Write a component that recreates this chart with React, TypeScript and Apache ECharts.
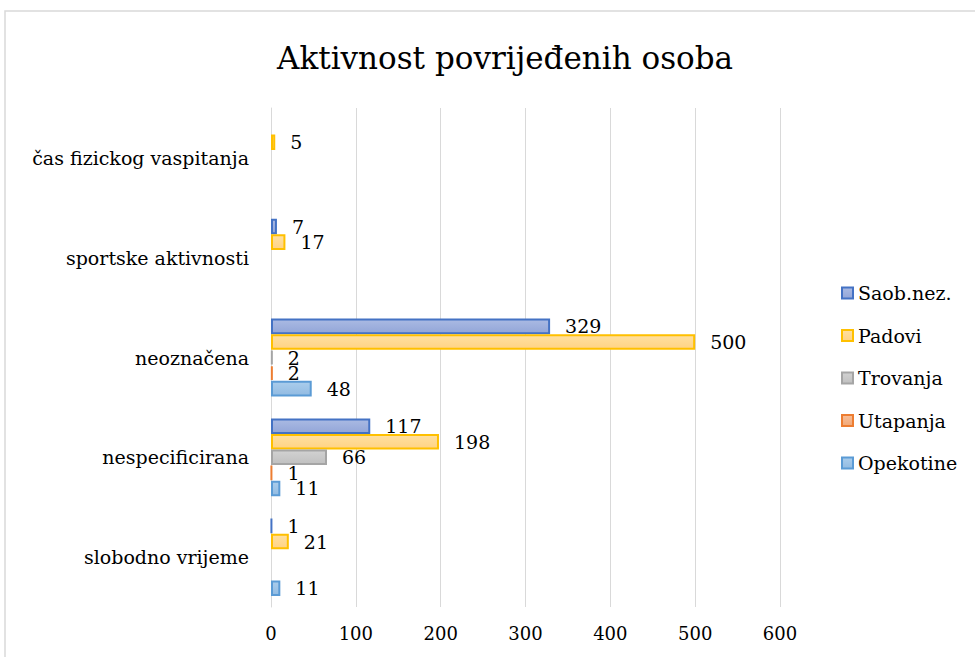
import React, { useEffect, useRef } from "react";
import * as echarts from "echarts";

const categories = [
  "slobodno vrijeme",
  "nespecificirana",
  "neoznačena",
  "sportske aktivnosti",
  "čas fizickog vaspitanja",
];
const seriesNames = ["Saob.nez.", "Padovi", "Trovanja", "Utapanja", "Opekotine"];
const saob = [1, 117, 329, 7, null];
const padovi = [21, 198, 500, 17, 5];
const trovanja = [null, 66, 2, null, null];
const utapanja = [null, 1, 2, null, null];
const opekotine = [11, 11, 48, null, null];
const xTicks = [0, 100, 200, 300, 400, 500, 600];

const FONT = "DejaVu Serif";

const styles = [
  { top: "#AABAE3", bottom: "#93A6D8", border: "#4472C4" },
  { top: "#FFE0A0", bottom: "#FFD385", border: "#FFC000" },
  { top: "#D2D2D2", bottom: "#C0C0C0", border: "#A5A5A5" },
  { top: "#F8BE98", bottom: "#F1A877", border: "#ED7D31" },
  { top: "#AACDEC", bottom: "#92BBE2", border: "#5B9BD5" },
];

export default function App() {
  const ref = useRef<HTMLDivElement>(null);
  useEffect(() => {
    if (!ref.current) return;
    const chart = echarts.init(ref.current, undefined, { renderer: "svg" });
    const datas = [saob, padovi, trovanja, utapanja, opekotine];
    const series = datas.map((d, i) => ({
      name: seriesNames[i],
      type: "bar",
      data: d,
      barGap: "0%",
      barCategoryGap: "22%",
      itemStyle: {
        color: new echarts.graphic.LinearGradient(0, 0, 0, 1, [
          { offset: 0, color: styles[i].top },
          { offset: 1, color: styles[i].bottom },
        ]),
        borderColor: styles[i].border,
        borderWidth: 2,
      },
      label: {
        show: true,
        position: "right",
        distance: 15,
        fontSize: 19,
        fontFamily: FONT,
        color: "#000",
      },
    }));
    chart.setOption({
      animation: false,
      backgroundColor: "#fff",
      textStyle: { fontFamily: FONT },
      title: {
        text: "Aktivnost povrijeđenih osoba",
        left: 272,
        top: 37,
        textStyle: { fontSize: 31, fontWeight: "normal", fontFamily: FONT, color: "#000" },
      },
      graphic: [
        {
          type: "rect",
          shape: { x: 5, y: 11, width: 990, height: 700 },
          style: { fill: "none", stroke: "#d9d9d9", lineWidth: 1.5 },
          silent: true,
        },
      ],
      legend: {
        orient: "vertical",
        left: 836,
        top: 277,
        itemWidth: 11,
        itemHeight: 11,
        itemGap: 20.5,
        icon: "rect",
        data: seriesNames,
        textStyle: { fontSize: 19, fontFamily: FONT, color: "#000", lineHeight: 22 },
      },
      grid: { left: 271, right: 195, top: 108, bottom: 50, containLabel: false },
      xAxis: {
        type: "value",
        min: xTicks[0],
        max: xTicks[xTicks.length - 1],
        interval: 100,
        axisLine: { show: false },
        axisTick: { show: false },
        splitLine: { lineStyle: { color: "#d9d9d9", width: 1 } },
        axisLabel: { fontSize: 18, fontFamily: FONT, color: "#000", margin: 17 },
      },
      yAxis: {
        type: "category",
        data: categories,
        axisLine: { show: true, lineStyle: { color: "#d9d9d9", width: 1 } },
        axisTick: { show: false },
        axisLabel: { fontSize: 19, fontFamily: FONT, color: "#000", margin: 22 },
      },
      series,
    });
    return () => chart.dispose();
  }, []);
  return (
    <div
      ref={ref}
      style={{ position: "absolute", left: 0, top: 0, width: 975, height: 657 }}
    />
  );
}
